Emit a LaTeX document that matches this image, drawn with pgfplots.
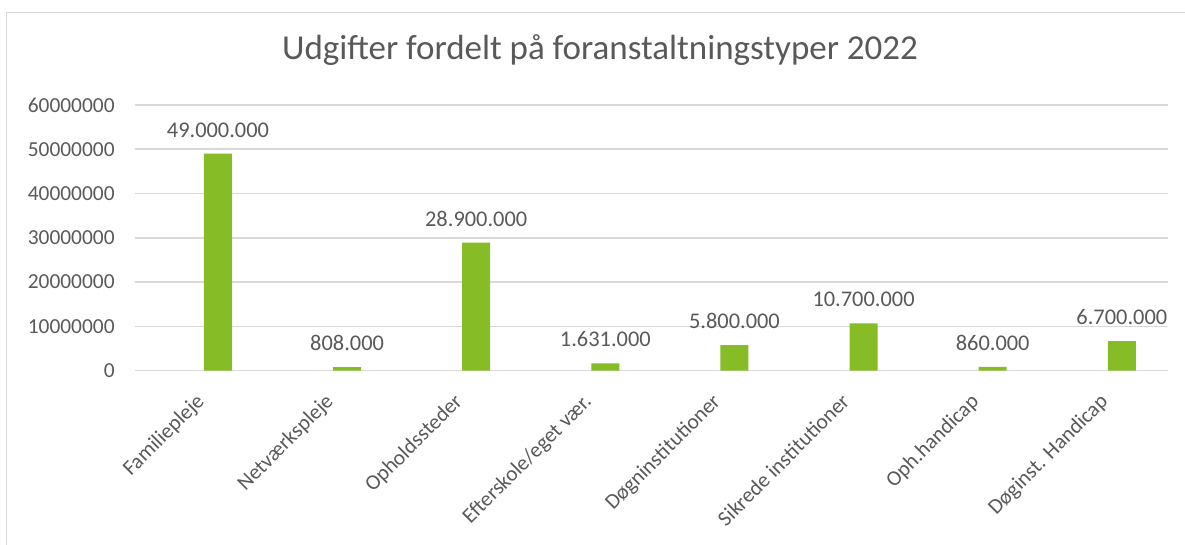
\documentclass[border=0pt]{standalone}
\usepackage{pgfplots}
\pgfplotsset{compat=1.18}
\usepackage{fontspec}
\setmainfont{Carlito}
\definecolor{barGreen}{HTML}{86BC25}
\definecolor{txt}{HTML}{595959}
\definecolor{gridc}{HTML}{D9D9D9}

\begin{document}
\begin{tikzpicture}
  \useasboundingbox (0,0) rectangle (592.5pt,272.5pt);
  \draw[gridc, line width=0.8pt] (3.3pt,0) -- (3.3pt,266.3pt) -- (592.5pt,266.3pt);
  \node[txt, font=\fontsize{17.5}{20}\selectfont] at (300pt,247.5pt) {Udgifter fordelt på foranstaltningstyper 2022};
  \begin{axis}[
    at={(67.5pt,87.15pt)}, anchor=south west,
    scale only axis,
    width=516.5pt, height=132.85pt,
    xmin=-0.5, xmax=7.5,
    ymin=0, ymax=60000000,
    ytick={0,10000000,20000000,30000000,40000000,50000000,60000000},
    scaled y ticks=false,
    yticklabel style={/pgf/number format/fixed, /pgf/number format/1000 sep={},
      /pgf/number format/assume math mode=true, font=\fontsize{10.7}{12}\selectfont, text=txt,
      anchor=east, inner sep=0pt, xshift=-10pt},
    xtick={0,1,2,3,4,5,6,7},
    xticklabels={Familiepleje, Netværkspleje, Opholdssteder, Efterskole/eget vær., Døgninstitutioner, Sikrede institutioner, Oph.handicap, Døginst. Handicap},
    xticklabel style={xshift=-2.5pt, yshift=-10.5pt, rotate=45, anchor=north east, inner sep=0pt,
      font=\fontsize{10.7}{12}\selectfont, text=txt},
    major tick length=0pt,
    ymajorgrids, grid style={draw=gridc, line width=0.8pt},
    axis x line*=bottom, axis y line*=left,
    x axis line style={draw=gridc, line width=0.8pt, -},
    y axis line style={draw=none},
    ybar, bar width=14pt, bar shift=0pt,
    nodes near coords=\pgfplotspointmeta,
    point meta=explicit symbolic,
    nodes near coords style={anchor=south, inner sep=0pt, yshift=8pt, text=txt,
      font=\fontsize{11.2}{13}\selectfont},
    clip=false,
  ]
    \addplot[fill=barGreen, draw=none] coordinates {
      (0.1425,49000000) [49.000.000]
      (1.1425,808000) [808.000]
      (2.1425,28900000) [28.900.000]
      (3.1425,1631000) [1.631.000]
      (4.1425,5800000) [5.800.000]
      (5.1425,10700000) [10.700.000]
      (6.1425,860000) [860.000]
      (7.1425,6700000) [6.700.000]
    };
  \end{axis}
\end{tikzpicture}
\end{document}
